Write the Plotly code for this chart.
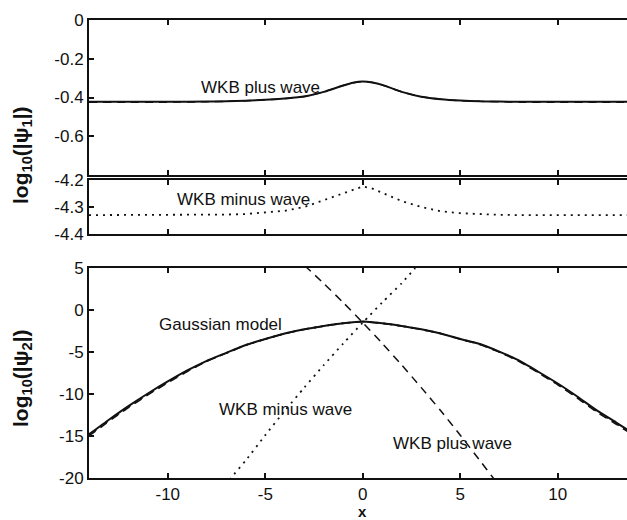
import plotly.graph_objects as go

# ---------------- data ----------------
top_x = [-14.04, -12, -10, -8, -7, -6, -5, -4, -3, -2, -1, -0.5, 0, 0.5, 1, 2, 3, 4, 5, 6, 7, 8, 10, 12, 13.6]
top_plus = [-0.422, -0.422, -0.422, -0.421, -0.42, -0.417, -0.412, -0.405, -0.395, -0.371, -0.338, -0.324, -0.318, -0.323, -0.335, -0.371, -0.396, -0.409, -0.416, -0.42, -0.421, -0.422, -0.422, -0.422, -0.422]
top_wkb = [-0.425, -0.425, -0.424, -0.422, -0.42, -0.417, -0.412, -0.405, -0.395, -0.371, -0.338, -0.324, -0.318, -0.323, -0.335, -0.371, -0.396, -0.409, -0.416, -0.42, -0.422, -0.424, -0.425, -0.425, -0.425]

mid_x = [-14.04, -12, -10, -8, -7, -6, -5, -4, -3, -2, -1, -0.5, 0, 0.5, 1, 2, 3, 4, 5, 6, 7, 8, 10, 12, 13.6]
mid_minus = [-4.330, -4.330, -4.330, -4.329, -4.328, -4.326, -4.321, -4.314, -4.300, -4.274, -4.250, -4.236, -4.224, -4.232, -4.248, -4.278, -4.300, -4.316, -4.323, -4.327, -4.329, -4.330, -4.330, -4.330, -4.330]

bot_x = [-14.04, -13, -12, -11, -10, -9, -8, -7, -6, -5, -4, -3, -2, -1, 0, 1, 2, 3, 4, 5, 6, 7, 8, 9, 10, 11, 12, 13, 13.6]
bot_exact = [-14.8, -13.03, -11.41, -9.91, -8.51, -7.2, -6.05, -5.1, -4.17, -3.45, -2.8, -2.3, -1.9, -1.58, -1.38, -1.58, -1.9, -2.3, -2.8, -3.45, -4.05, -4.95, -6.0, -7.35, -8.75, -10.3, -11.95, -13.4, -14.3]
bot_gauss = [-15.0, -13.22, -11.6, -10.08, -8.66, -7.32, -6.12, -5.14, -4.2, -3.47, -2.81, -2.31, -1.91, -1.59, -1.4, -1.6, -1.92, -2.32, -2.82, -3.48, -4.1, -5.02, -6.1, -7.48, -8.9, -10.48, -12.15, -13.6, -14.5]
bot_sum = [-14.9, -13.12, -11.5, -10.0, -8.58, -7.26, -6.08, -5.12, -4.18, -3.46, -2.8, -2.3, -1.9, -1.58, -1.38, -1.58, -1.9, -2.3, -2.8, -3.46, -4.07, -4.98, -6.05, -7.42, -8.83, -10.4, -12.05, -13.5, -14.4]

plus_x = [-3.5, -2.85, -2, -1, 0, 1, 2, 3, 4, 5, 6, 6.69, 7.2]
plus_y = [6.37, 5.0, 3.15, 0.88, -1.5, -3.98, -6.56, -9.24, -12.0, -14.9, -17.9, -20.0, -21.6]
minus_x = [-7.2, -6.75, -6, -5, -4, -3, -2, -1, 0, 1, 2, 2.65, 3.3]
minus_y = [-21.6, -20.0, -17.9, -14.9, -12.0, -9.24, -6.56, -3.98, -1.5, 0.9, 3.2, 4.9, 6.4]

x_ticks = [-10, -5, 0, 5, 10]
x_labels = ["-10", "-5", "0", "5", "10"]
top_ticks = [0, -0.2, -0.4, -0.6]
top_labels = ["0", "-0.2", "-0.4", "-0.6"]
mid_ticks = [-4.2, -4.3, -4.4]
mid_labels = ["-4.2", "-4.3", "-4.4"]
bot_ticks = [5, 0, -5, -10, -15, -20]
bot_labels = ["5", "0", "-5", "-10", "-15", "-20"]

# ---------------- figure ----------------
FONT = "Liberation Sans, Arial, sans-serif"
BLK = "#111111"
DASH = "8px,6px"
DOT = "2px,5px"
fig = go.Figure()

fig.add_trace(go.Scatter(x=top_x, y=top_wkb, mode="lines", xaxis="x", yaxis="y",
                         line=dict(color=BLK, width=1.5, dash=DASH, shape="spline", smoothing=0.6)))
fig.add_trace(go.Scatter(x=top_x, y=top_plus, mode="lines", xaxis="x", yaxis="y",
                         line=dict(color=BLK, width=2, shape="spline", smoothing=0.6)))

fig.add_trace(go.Scatter(x=mid_x, y=mid_minus, mode="lines", xaxis="x2", yaxis="y2",
                         line=dict(color=BLK, width=1.8, dash=DOT)))

fig.add_trace(go.Scatter(x=bot_x, y=bot_gauss, mode="lines", xaxis="x3", yaxis="y3",
                         line=dict(color=BLK, width=1.5, dash=DASH, shape="spline", smoothing=0.5)))
fig.add_trace(go.Scatter(x=bot_x, y=bot_sum, mode="lines", xaxis="x3", yaxis="y3",
                         line=dict(color=BLK, width=1.8, dash=DOT, shape="spline", smoothing=0.5)))
fig.add_trace(go.Scatter(x=bot_x, y=bot_exact, mode="lines", xaxis="x3", yaxis="y3",
                         line=dict(color=BLK, width=2, shape="spline", smoothing=0.5)))
fig.add_trace(go.Scatter(x=plus_x, y=plus_y, mode="lines", xaxis="x3", yaxis="y3",
                         line=dict(color=BLK, width=1.5, dash=DASH, shape="spline", smoothing=0.6)))
fig.add_trace(go.Scatter(x=minus_x, y=minus_y, mode="lines", xaxis="x3", yaxis="y3",
                         line=dict(color=BLK, width=1.8, dash=DOT, shape="spline", smoothing=0.6)))

xr = [-14.04, 13.55]
H = 458.0
W = 538.0
def dom(top_px, bot_px):
    return [(478 - bot_px) / H, (478 - top_px) / H]

common_x = dict(range=xr, tickvals=x_ticks, ticktext=x_labels, ticks="inside", ticklen=5, tickwidth=1.5,
                tickcolor=BLK, showline=True, linewidth=2, linecolor=BLK, mirror="allticks",
                showgrid=False, zeroline=False, tickfont=dict(family=FONT, size=17, color=BLK))
common_y = dict(ticks="inside", ticklen=5, tickwidth=1.5, tickcolor=BLK, showline=True,
                linewidth=2, linecolor=BLK, mirror=False, showgrid=False, zeroline=False,
                tickfont=dict(family=FONT, size=17, color=BLK))

fig.update_layout(
    width=627, height=520,
    margin=dict(l=89, r=0, t=20, b=42, autoexpand=False),
    paper_bgcolor="white", plot_bgcolor="white",
    showlegend=False,
    xaxis=dict(common_x, domain=[0, 1], anchor="y", showticklabels=False),
    xaxis2=dict(common_x, domain=[0, 1], anchor="y2", showticklabels=False),
    xaxis3=dict(common_x, domain=[0, 1], anchor="y3", showticklabels=True, ticklabelstandoff=0),
    yaxis=dict(common_y, domain=dom(20, 175), anchor="x", range=[-0.8, 0], tickvals=top_ticks,
               ticktext=top_labels),
    yaxis2=dict(common_y, domain=dom(180, 234), anchor="x2", range=[-4.4, -4.2], tickvals=mid_ticks,
                ticktext=mid_labels),
    yaxis3=dict(common_y, domain=dom(268, 478), anchor="x3", range=[-20, 5], tickvals=bot_ticks,
                ticktext=bot_labels),
)

tf = dict(family=FONT, size=17, color=BLK)
anns = [
    dict(x=-5.25, y=-0.35, xref="x", yref="y", text="WKB plus wave"),
    dict(x=-6.1, y=-4.274, xref="x2", yref="y2", text="WKB minus wave"),
    dict(x=-7.3, y=-1.71, xref="x3", yref="y3", text="Gaussian model"),
    dict(x=-3.96, y=-11.85, xref="x3", yref="y3", text="WKB minus wave"),
    dict(x=4.6, y=-15.87, xref="x3", yref="y3", text="WKB plus wave"),
]
for a in anns:
    fig.add_annotation(showarrow=False, font=tf, xanchor="center", yanchor="middle", **a)

tb = dict(family=FONT, size=21, color=BLK)
# pixel positions converted to paper fractions
def px(xp):
    return (xp - 89) / W
def py(yp):
    return (520 - yp - 42) / H

fig.add_annotation(x=px(22), y=py(155), xref="paper", yref="paper", showarrow=False, textangle=-90,
                   xanchor="center", yanchor="middle",
                   text="<b>log<sub>10</sub>(|ψ<sub>1</sub>|)</b>", font=tb)
fig.add_annotation(x=px(22), y=py(378), xref="paper", yref="paper", showarrow=False, textangle=-90,
                   xanchor="center", yanchor="middle",
                   text="<b>log<sub>10</sub>(|ψ<sub>2</sub>|)</b>", font=tb)
fig.add_annotation(x=px(362.3), y=py(511), xref="paper", yref="paper", showarrow=False,
                   xanchor="center", yanchor="middle",
                   text="<b>x</b>", font=dict(family=FONT, size=15, color=BLK))

fig.write_html("out.html", config={"displayModeBar": False},
               post_script="document.body.style.margin='0px';")
